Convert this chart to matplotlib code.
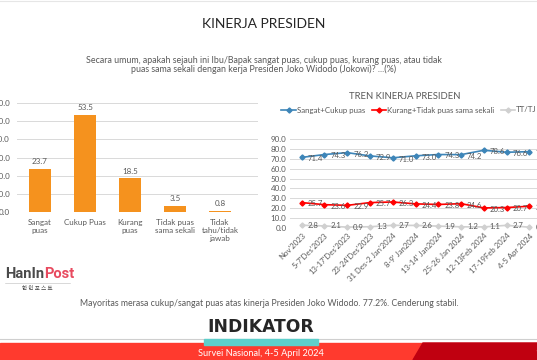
import matplotlib
matplotlib.use("Agg")
import matplotlib.pyplot as plt
from matplotlib.patches import Rectangle, Polygon
from matplotlib.lines import Line2D

plt.rcParams['font.family'] = ['Lato', 'DejaVu Sans']

# ---------------- data ----------------
bar_categories = ["Sangat\npuas", "Cukup Puas", "Kurang\npuas", "Tidak puas\nsama sekali", "Tidak\ntahu/tidak\njawab"]
bar_values = [23.7, 53.5, 18.5, 3.5, 0.8]
bar_yticks = [0, 10, 20, 30, 40, 50, 60]

trend_labels = ["Nov'2023", "5-7'Des'2023", "13-17'Des'2023", "23-24'Des'2023",
                "31 Des-2 Jan'2024", "8-9' Jan2024", "13-14' Jan2024", "25-26 Jan 2024",
                "12-13Feb 2024", "17-19Feb 2024", "4-5 Apr 2024"]
puas = [71.4, 74.3, 76.2, 72.9, 71.0, 73.0, 74.3, 74.2, 78.6, 76.6, 77.2]
tidak_puas = [25.7, 23.6, 22.9, 25.7, 26.3, 24.4, 23.8, 24.6, 20.3, 20.7, 22.0]
tt_tj = [2.8, 2.1, 0.9, 1.3, 2.7, 2.6, 1.9, 1.2, 1.1, 2.7, 0.8]
trend_yticks = [0, 10, 20, 30, 40, 50, 60, 70, 80, 90]
series_names = ["Sangat+Cukup puas", "Kurang+Tidak puas sama sekali", "TT/TJ"]

# ---------------- style ----------------
W, H = 537, 360
GRAY_TXT = "#595959"
GRID = "#d9d9d9"
ORANGE = "#F5921E"
BLUE = "#3D85B8"
RED = "#FF0000"
LGRAY = "#d0d0d0"

fig = plt.figure(figsize=(W / 100, H / 100), dpi=100)


def fx(x):
    return x / W


def fy(y):
    return 1 - y / H


def axrect(l, t, r, b):
    return [fx(l), fy(b), (r - l) / W, (b - t) / H]


# ---------------- headings ----------------
fig.text(fx(264), fy(24), "KINERJA PRESIDEN", ha="center", va="center",
         fontsize=10, color="#262626")
fig.text(fx(264), fy(60.5), "Secara umum, apakah sejauh ini Ibu/Bapak sangat puas, cukup puas, kurang puas, atau tidak",
         ha="center", va="center", fontsize=6.4, color=GRAY_TXT)
fig.text(fx(264), fy(69.5), "puas sama sekali dengan kerja Presiden Joko Widodo (Jokowi)? ...(%)",
         ha="center", va="center", fontsize=6.4, color=GRAY_TXT)

# ---------------- left bar chart ----------------
ax1 = fig.add_axes(axrect(17, 103, 258, 212))
xs = list(range(len(bar_categories)))
ax1.bar(xs, bar_values, width=0.51, color=ORANGE, zorder=3)
for x, v in zip(xs, bar_values):
    ax1.annotate(f"{v:.1f}", (x, v), xytext=(0, 2.5), textcoords="offset points",
                 ha="center", va="bottom", fontsize=5.8, color=GRAY_TXT)
ax1.set_ylim(0, 60)
ax1.set_xlim(-0.511, 4.844)
ax1.set_yticks(bar_yticks)
ax1.set_yticklabels([f"{t:.1f}" for t in bar_yticks], fontsize=5.8, color=GRAY_TXT)
ax1.set_xticks(xs)
ax1.set_xticklabels(bar_categories, fontsize=5.8, color=GRAY_TXT, linespacing=1.2)
ax1.tick_params(axis="both", length=0, pad=5)
ax1.tick_params(axis="x", pad=5)
ax1.grid(axis="y", color=GRID, linewidth=0.7, zorder=0)
for s in ax1.spines.values():
    s.set_visible(False)

# ---------------- right trend chart ----------------
fig.text(fx(405), fy(96.5), "TREN KINERJA PRESIDEN", ha="center", va="center",
         fontsize=6.8, color=GRAY_TXT)

ax2 = fig.add_axes(axrect(290, 139, 541, 228))
tx = list(range(len(trend_labels)))
ax2.plot(tx, puas, color=BLUE, lw=1.2, marker="D", ms=2.6, zorder=4, clip_on=False)
ax2.plot(tx, tidak_puas, color=RED, lw=1.2, marker="D", ms=2.6, zorder=4, clip_on=False)
ax2.plot(tx, tt_tj, color=LGRAY, lw=1.2, marker="D", ms=2.6, zorder=3, clip_on=False)
for series, dy in ((puas, -1.0), (tidak_puas, -1.0), (tt_tj, 0)):
    for x, v in zip(tx, series):
        ax2.annotate(f"{v:.1f}", (x, v), xytext=(4.3, dy), textcoords="offset points",
                     ha="left", va="center", fontsize=5.6, color=GRAY_TXT,
                     annotation_clip=False, zorder=5)
ax2.set_ylim(0, 90)
ax2.set_xlim(-0.514, 10.51)
ax2.set_yticks(trend_yticks)
ax2.set_yticklabels([f"{t:.1f}" for t in trend_yticks], fontsize=5.8, color=GRAY_TXT)
ax2.set_xticks(tx)
ax2.set_xticklabels(trend_labels, fontsize=5.6, color=GRAY_TXT, rotation=45,
                    ha="right", rotation_mode="anchor")
ax2.tick_params(axis="both", length=0, pad=2.5)
ax2.tick_params(axis="x", pad=3)
ax2.grid(axis="y", color=GRID, linewidth=0.7, zorder=0)
for s in ax2.spines.values():
    s.set_visible(False)

# legend (manual)
leg_items = [(281, 296, 297, BLUE), (372, 386, 387, RED), (501, 515, 516, LGRAY)]
for (x0, x1, xt, c), name in zip(leg_items, series_names):
    fig.add_artist(Line2D([fx(x0), fx(x1)], [fy(110), fy(110)], color=c, lw=1.2,
                          transform=fig.transFigure))
    fig.add_artist(Line2D([fx((x0 + x1) / 2)], [fy(110)], color=c, marker="D", ms=2.6,
                          transform=fig.transFigure))
    fig.text(fx(xt), fy(110), name, ha="left", va="center", fontsize=5.7, color=GRAY_TXT)

# ---------------- HanInPost logo ----------------
t1 = fig.text(fx(5), fy(274), "HanIn", ha="left", va="center", fontsize=10.5,
              fontweight="bold", color="#4a4a4a", family="Roboto")
fig.canvas.draw()
bb = t1.get_window_extent()
fig.text(bb.x1 / W, fy(274), "Post", ha="left", va="center", fontsize=10.5,
         fontweight="bold", color="#E84A5F", family="Roboto")
fig.add_artist(Line2D([fx(5), fx(70)], [fy(283), fy(283)], color="#bbbbbb", lw=0.4,
                      transform=fig.transFigure))
fig.text(fx(37), fy(288.5), "한 인 포 스 트", ha="center", va="center", fontsize=4,
         color="#444444", family=["Noto Sans CJK KR", "DejaVu Sans"])

# ---------------- footer ----------------
fig.text(fx(269), fy(304), "Mayoritas merasa cukup/sangat puas atas kinerja Presiden Joko Widodo. 77.2%. Cenderung stabil.",
         ha="center", va="center", fontsize=6.3, color=GRAY_TXT)
fig.text(fx(260.5), fy(327.5), "INDIKATOR", ha="center", va="center", fontsize=12.3,
         fontweight="bold", color="#262626", family="DejaVu Sans")

fig.add_artist(Line2D([0, 1], [fy(338.5), fy(338.5)], color="#cfcfcf", lw=0.8,
                      transform=fig.transFigure))
fig.add_artist(Rectangle((0, 0), 1, fy(343), color="#FF3A2E", transform=fig.transFigure,
                         zorder=1))
fig.add_artist(Polygon([[fx(413), 0], [fx(423), fy(343)], [1, fy(343)], [1, 0]],
                       closed=True, color="#C00010", transform=fig.transFigure, zorder=1))
fig.add_artist(Rectangle((fx(204), fy(345)), (318 - 204) / W, 6 / H, color="#5ECFCB",
                         transform=fig.transFigure, zorder=2))
fig.text(fx(261), fy(353), "Survei Nasional, 4-5 April 2024", ha="center", va="center",
         fontsize=6.6, color="white", zorder=3)
fig.text(fx(535), fy(353), "1", ha="left", va="center", fontsize=6.2, color="white", zorder=3)

fig.add_artist(Line2D([0, 1], [fy(0.8), fy(0.8)], color="#e6e6e6", lw=0.8,
                      transform=fig.transFigure))

fig.savefig("out.png", dpi=100)
